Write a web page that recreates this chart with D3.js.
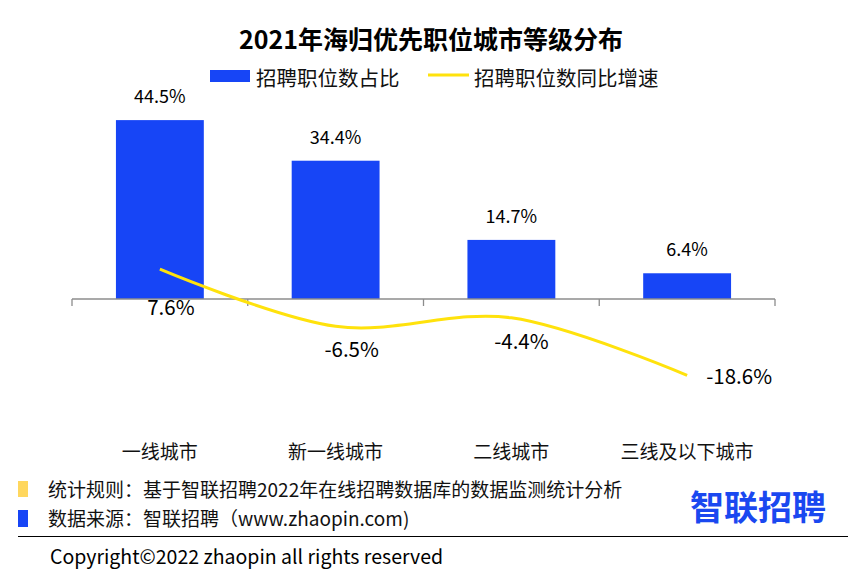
<!DOCTYPE html>
<html><head><meta charset="utf-8">
<script src="https://cdn.jsdelivr.net/npm/d3@7"></script>
<style>
html,body{margin:0;padding:0;background:#fff;}
svg{display:block;font-family:"Noto Sans CJK SC","Noto Sans",sans-serif;}
</style></head>
<body>
<svg id="chart" width="863" height="577"></svg>
<script>
const categories = ["一线城市","新一线城市","二线城市","三线及以下城市"];
const shareValues = [44.5, 34.4, 14.7, 6.4];
const growthValues = [7.6, -6.5, -4.4, -18.6];
const shareLabels = ["44.5%","34.4%","14.7%","6.4%"];
const growthLabels = ["7.6%","-6.5%","-4.4%","-18.6%"];
const titleText = "2021年海归优先职位城市等级分布";
const legendNames = ["招聘职位数占比","招聘职位数同比增速"];
const footnotes = ["统计规则：基于智联招聘2022年在线招聘数据库的数据监测统计分析","数据来源：智联招聘（www.zhaopin.com)"];
const copyright = "Copyright©2022 zhaopin all rights reserved";

const BLUE = "#1745F6", YELLOW = "#FFE20C";
const svg = d3.select("#chart");

const x = d3.scaleBand().domain(categories).range([72, 775]).padding(0);
const bw = x.bandwidth();
const y = d3.scaleLinear().domain([0, 50]).range([299, 299 - 201]);
const y2 = d3.scaleLinear().domain([-20, 10]).range([300 + 20 * 4.05, 300 - 10 * 4.05]);

// title
svg.append("text").attr("x", 431).attr("y", 49).attr("text-anchor", "middle")
  .attr("font-size", 25).attr("font-weight", "bold").attr("fill", "#000").text(titleText);

// legend
svg.append("rect").attr("x", 210).attr("y", 70).attr("width", 40).attr("height", 12).attr("fill", BLUE);
svg.append("text").attr("x", 256).attr("y", 86).attr("font-size", 20.5).attr("fill", "#111").text(legendNames[0]);
svg.append("line").attr("x1", 428).attr("x2", 469).attr("y1", 75).attr("y2", 75)
  .attr("stroke", YELLOW).attr("stroke-width", 3);
svg.append("text").attr("x", 474).attr("y", 86).attr("font-size", 20.5).attr("fill", "#111").text(legendNames[1]);

// bars
svg.selectAll("rect.bar").data(categories).join("rect").attr("class", "bar")
  .attr("x", d => x(d) + bw / 4).attr("width", bw / 2)
  .attr("y", (d, i) => y(shareValues[i])).attr("height", (d, i) => y(0) - y(shareValues[i]))
  .attr("fill", BLUE);

svg.selectAll("text.barlab").data(categories).join("text").attr("class", "barlab")
  .attr("x", d => x(d) + bw / 2).attr("y", (d, i) => y(shareValues[i]) - 17)
  .attr("text-anchor", "middle").attr("font-size", 18).attr("fill", "#000")
  .text((d, i) => shareLabels[i]);

// axis
const ax = svg.append("g").attr("stroke", "#8c8c8c").attr("stroke-width", 1.3);
ax.append("line").attr("x1", x.range()[0]).attr("x2", x.range()[1]).attr("y1", y(0)).attr("y2", y(0));
const tickPos = categories.map(c => x(c)).concat([x.range()[1]]);
ax.selectAll("line.tick").data(tickPos).join("line").attr("class", "tick")
  .attr("x1", d => d).attr("x2", d => d).attr("y1", y(0)).attr("y2", y(0) + 7);

svg.selectAll("text.cat").data(categories).join("text").attr("class", "cat")
  .attr("x", d => x(d) + bw / 2).attr("y", 459).attr("text-anchor", "middle")
  .attr("font-size", 19).attr("fill", "#111").text(d => d);

// line
const pts = categories.map((c, i) => [x(c) + bw / 2, y2(growthValues[i])]);
svg.append("path").attr("d", d3.line().curve(d3.curveCardinal.tension(0))(pts))
  .attr("fill", "none").attr("stroke", YELLOW).attr("stroke-width", 3);

const labelOffsets = [[11, 39], [16, 24], [10, 24], [52, 2]];
svg.selectAll("text.growlab").data(categories).join("text").attr("class", "growlab")
  .attr("x", (d, i) => pts[i][0] + labelOffsets[i][0])
  .attr("y", (d, i) => pts[i][1] + labelOffsets[i][1] + 7)
  .attr("text-anchor", "middle").attr("font-size", 20.5).attr("fill", "#000")
  .text((d, i) => growthLabels[i]);

// footer
svg.append("rect").attr("x", 18).attr("y", 481).attr("width", 10).attr("height", 16).attr("fill", "#FFD75E");
svg.append("rect").attr("x", 18).attr("y", 510).attr("width", 10).attr("height", 17).attr("fill", BLUE);
svg.append("text").attr("x", 48).attr("y", 497).attr("font-size", 19).attr("fill", "#111").text(footnotes[0]);
svg.append("text").attr("x", 48).attr("y", 526).attr("font-size", 19).attr("fill", "#111").text(footnotes[1]);
svg.append("line").attr("x1", 18).attr("x2", 848).attr("y1", 536.5).attr("y2", 536.5).attr("stroke", "#000").attr("stroke-width", 1);
svg.append("text").attr("x", 50).attr("y", 564).attr("font-size", 19.5).attr("fill", "#000").text(copyright);

// logo
svg.append("text").attr("x", 758).attr("y", 520).attr("text-anchor", "middle")
  .attr("font-size", 34).attr("font-weight", "bold").attr("fill", "#1A48F0").text("智联招聘");
</script>
</body></html>
